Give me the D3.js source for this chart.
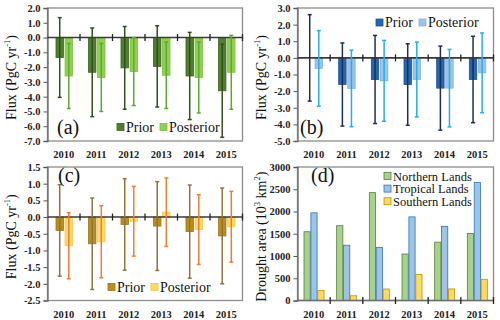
<!DOCTYPE html>
<html>
<head>
<meta charset="utf-8">
<script src="https://cdn.jsdelivr.net/npm/d3@7"></script>
<style>
  html, body { margin: 0; padding: 0; background: #fff; }
  svg { display: block; font-family: "Liberation Serif", "DejaVu Serif", serif; }
</style>
</head>
<body>
<svg width="500" height="320"></svg>
<script>
const years = ["2010", "2011", "2012", "2013", "2014", "2015"];

// (a) Northern lands flux
const aPrior = [-1.35, -2.35, -2.05, -1.95, -2.6, -3.6];
const aPriorErr = [2.7, 3.0, 2.8, 2.75, 2.95, 3.15];
const aPost = [-2.6, -2.7, -2.3, -2.55, -2.7, -2.35];
const aPostErr = [2.2, 2.3, 2.3, 2.25, 2.4, 2.5];
const aTicks = [-7, -6, -5, -4, -3, -2, -1, 0, 1, 2];

// (b) Tropical lands flux
const bPrior = [0.0, -1.6, -1.3, -1.6, -1.82, -1.3];
const bPriorErr = [2.6, 2.5, 2.65, 2.45, 2.53, 2.6];
const bPost = [-0.63, -1.84, -1.38, -1.3, -1.82, -0.9];
const bPostErr = [2.27, 2.3, 2.43, 2.25, 2.33, 2.4];
const bTicks = [-5, -4, -3, -2, -1, 0, 1, 2, 3];

// (c) Southern lands flux
const cPrior = [-0.4, -0.8, -0.22, -0.27, -0.435, -0.565];
const cPriorErr = [1.37, 1.37, 1.37, 1.33, 1.395, 1.435];
const cPost = [-0.86, -0.74, -0.125, 0.145, -0.375, -0.29];
const cPostErr = [0.99, 1.08, 1.045, 1.025, 1.045, 1.06];
const cTicks = [-2.5, -2, -1.5, -1, -0.5, 0, 0.5, 1, 1.5];

// (d) Drought area
const northArea = [1545, 1682, 2424, 1045, 1311, 1508];
const tropicArea = [1970, 1242, 1189, 1879, 1667, 2652];
const southArea = [227, 106, 258, 583, 260, 477];
const dTicks = [0, 500, 1000, 1500, 2000, 2500, 3000];

const svg = d3.select("svg");
const fmt1 = d3.formatLocale({decimal: ".", thousands: ",", grouping: [3], currency: ["", ""], minus: "-"}).format(".1f");

function yTitle(g, x, y, parts) {
    const t = g.append("text")
        .attr("transform", `translate(${x},${y}) rotate(-90)`)
        .attr("text-anchor", "middle")
        .attr("font-size", 14)
        .attr("fill", "#111");
    let drop = 0;
    parts.forEach(p => {
        if (typeof p === "string") {
            t.append("tspan").attr("dy", drop).text(p);
            drop = 0;
        } else {
            t.append("tspan").attr("font-size", 8.5).attr("dy", -6).text(p.up);
            drop = 6;
        }
    });
}

function drawPanel(cfg) {
    const g = svg.append("g");
    const x = d3.scaleBand().domain(years).range([cfg.x0, cfg.x1]);
    const y = d3.scaleLinear().domain(cfg.domain).range([cfg.y1, cfg.y0]);
    const sub = d3.scaleBand()
        .domain(cfg.series.map(s => s.name))
        .range(cfg.subRange)
        .paddingInner(cfg.subPad);

    // frame
    g.append("rect")
        .attr("x", cfg.x0).attr("y", cfg.y0)
        .attr("width", cfg.x1 - cfg.x0).attr("height", cfg.y1 - cfg.y0)
        .attr("fill", "none").attr("stroke", "#8c8c8c").attr("stroke-width", 1.3);

    // y axis
    const yAxis = d3.axisLeft(y).tickValues(cfg.ticks).tickSize(4).tickPadding(3).tickFormat(cfg.format);
    const ya = g.append("g").attr("transform", `translate(${cfg.x0},0)`).call(yAxis);
    ya.select(".domain").attr("stroke", "#6e6e6e").attr("stroke-width", 1.3);
    ya.selectAll(".tick line").attr("stroke", "#555");
    ya.selectAll(".tick text")
        .attr("font-family", "Liberation Serif").attr("font-size", 10.5)
        .attr("font-weight", "bold").attr("fill", "#222");

    // bars
    cfg.series.forEach(s => {
        g.append("g").selectAll("rect").data(years).join("rect")
            .attr("x", (d) => x(d) + sub(s.name))
            .attr("width", sub.bandwidth())
            .attr("y", (d, i) => Math.min(y(0), y(s.values[i])))
            .attr("height", (d, i) => Math.abs(y(s.values[i]) - y(0)))
            .attr("fill", s.fill)
            .attr("stroke", s.stroke)
            .attr("stroke-width", 0.8);
    });

    // baseline and category ticks
    const base = y(0);
    g.append("line")
        .attr("x1", cfg.x0).attr("x2", cfg.x1)
        .attr("y1", base).attr("y2", base)
        .attr("stroke", cfg.zeroColor).attr("stroke-width", 1.6);
    g.append("g").selectAll("line").data(years.slice(1).concat(["end"])).join("line")
        .attr("x1", (d) => d === "end" ? cfg.x1 : x(d))
        .attr("x2", (d) => d === "end" ? cfg.x1 : x(d))
        .attr("y1", base - 3.5).attr("y2", base + 3.5)
        .attr("stroke", "#222").attr("stroke-width", 1.3);

    // error bars
    cfg.series.filter(s => s.errs).forEach(s => {
        const eg = g.append("g").attr("stroke", s.errColor).attr("stroke-width", 1.5);
        years.forEach((yr, i) => {
            const cx = x(yr) + sub(s.name) + sub.bandwidth() / 2;
            const top = y(s.values[i] + s.errs[i]);
            const bot = y(s.values[i] - s.errs[i]);
            eg.append("line").attr("x1", cx).attr("x2", cx).attr("y1", top).attr("y2", bot);
            eg.append("line").attr("x1", cx - 2).attr("x2", cx + 2).attr("y1", top).attr("y2", top);
            eg.append("line").attr("x1", cx - 2).attr("x2", cx + 2).attr("y1", bot).attr("y2", bot);
        });
    });

    // x labels
    g.append("g").selectAll("text").data(years).join("text")
        .attr("x", (d) => x(d) + x.bandwidth() / 2)
        .attr("y", cfg.y1 + 17)
        .attr("text-anchor", "middle")
        .attr("font-size", 10.5).attr("font-weight", "bold").attr("fill", "#222")
        .text((d) => d);

    // panel label
    g.append("text").attr("x", cfg.label[1]).attr("y", cfg.label[2])
        .attr("font-size", 20).attr("fill", "#111").text(cfg.label[0]);

    yTitle(g, cfg.titleX, (cfg.y0 + cfg.y1) / 2 + 3, cfg.title);

    // legend: horizontal rows flow left to right, vertical ones stack
    const lg = g.append("g").attr("font-size", cfg.legend.size).attr("fill", "#111");
    let lx = cfg.legend.x, ly = cfg.legend.y;
    cfg.series.forEach((s) => {
        lg.append("rect").attr("x", lx).attr("y", ly - 3.5).attr("width", 7).attr("height", 7)
            .attr("fill", s.fill).attr("stroke", s.stroke).attr("stroke-width", 0.8);
        const t = lg.append("text").attr("x", lx + 9).attr("y", ly + 4.5).text(s.name);
        if (cfg.legend.vertical) {
            ly += 12.6;
        } else {
            lx += 9 + t.node().getComputedTextLength() + 6;
        }
    });
}

const fluxTitle = ["Flux (PgC yr", {up: "-1"}, ")"];

drawPanel({
    x0: 47.5, x1: 242.5, y0: 8, y1: 141,
    domain: [-7, 2], ticks: aTicks, format: fmt1,
    subRange: [8.5, 25], subPad: 0.18, zeroColor: "#3a3a3a",
    series: [
        {name: "Prior", values: aPrior, errs: aPriorErr, fill: "#4f8030", stroke: "#3b6121", errColor: "#2f4f1b"},
        {name: "Posterior", values: aPost, errs: aPostErr, fill: "#8fd14f", stroke: "#7cbf40", errColor: "#5ea832"}
    ],
    label: ["(a)", 57, 134], titleX: 16, title: fluxTitle,
    legend: {x: 117, y: 127, size: 14}
});

drawPanel({
    x0: 297.5, x1: 493.5, y0: 8, y1: 141,
    domain: [-5, 3], ticks: bTicks, format: fmt1,
    subRange: [8.5, 25], subPad: 0.18, zeroColor: "#3a3a3a",
    series: [
        {name: "Prior", values: bPrior, errs: bPriorErr, fill: "#2467b0", stroke: "#1d528d", errColor: "#1f2d52"},
        {name: "Posterior", values: bPost, errs: bPostErr, fill: "#9dc3e6", stroke: "#86b2dc", errColor: "#1fb0ee"}
    ],
    label: ["(b)", 300, 134], titleX: 266, title: fluxTitle,
    legend: {x: 376, y: 22.5, size: 14}
});

drawPanel({
    x0: 47.5, x1: 242.5, y0: 167, y1: 300.5,
    domain: [-2.5, 1.5], ticks: cTicks, format: fmt1,
    subRange: [8.5, 25], subPad: 0.18, zeroColor: "#3a3a3a",
    series: [
        {name: "Prior", values: cPrior, errs: cPriorErr, fill: "#bc8d1c", stroke: "#9c7514", errColor: "#8a7440"},
        {name: "Posterior", values: cPost, errs: cPostErr, fill: "#ffd966", stroke: "#f5c842", errColor: "#f27b35"}
    ],
    label: ["(c)", 58, 182], titleX: 16, title: fluxTitle,
    legend: {x: 108, y: 287, size: 14}
});

drawPanel({
    x0: 297.5, x1: 493.5, y0: 167, y1: 300.5,
    domain: [0, 3000], ticks: dTicks, format: d3.format("d"),
    subRange: [6.5, 26.5], subPad: 0.1, zeroColor: "#6e6e6e",
    series: [
        {name: "Northern Lands", values: northArea, fill: "#a9d18e", stroke: "#548235"},
        {name: "Tropical Lands", values: tropicArea, fill: "#9dc3e6", stroke: "#2e75b6"},
        {name: "Southern Lands", values: southArea, fill: "#ffd966", stroke: "#bf9000"}
    ],
    label: ["(d)", 311, 182], titleX: 266,
    title: ["Drought area (10", {up: "3"}, " km", {up: "2"}, ")"],
    legend: {x: 384, y: 176, size: 12.5, vertical: true}
});
</script>
</body>
</html>
